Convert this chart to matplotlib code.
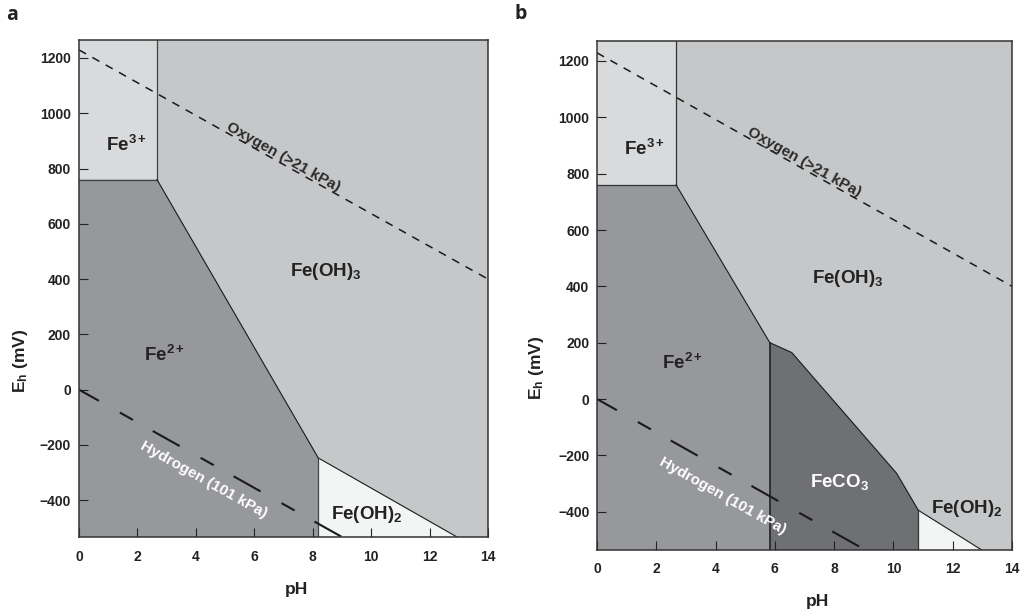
import numpy as np
import matplotlib
matplotlib.use("Agg")
import matplotlib.pyplot as plt

plt.rcParams["font.family"] = ["Liberation Sans", "DejaVu Sans"]
plt.rcParams["font.weight"] = "bold"
plt.rcParams["mathtext.fontset"] = "custom"
plt.rcParams["mathtext.rm"] = "Liberation Sans:bold"
plt.rcParams["mathtext.it"] = "Liberation Sans:bold"
plt.rcParams["mathtext.bf"] = "Liberation Sans:bold"
plt.rcParams["mathtext.default"] = "rm"
plt.rcParams["lines.scale_dashes"] = False

# ---- data -------------------------------------------------------------
ph_ticks = [0, 2, 4, 6, 8, 10, 12, 14]
eh_ticks = [-400, -200, 0, 200, 400, 600, 800, 1000, 1200]
ylim_a = (-533, 1265)
ylim_b = (-536, 1271)

# water stability lines (mV)
oxygen_ph = [0, 14]
oxygen_eh = [1229, 400]
hydrogen_ph = [0, 14]
hydrogen_eh = [0, -829]

# Fe3+ / Fe2+ boundary
fe3_ph = 2.67
fe3_eh = 760

# panel a: Fe2+ / Fe(OH)3 boundary and Fe(OH)2 field
a_fe2_ph = [2.67, 8.19]
a_fe2_eh = [760, -247]
a_oh2_ph = [8.19, 12.94]
a_oh2_eh = [-247, -533]

# panel b: Fe2+ / Fe(OH)3, FeCO3 field and Fe(OH)2 field
b_fe2_ph = [2.67, 5.83]
b_fe2_eh = [760, 200]
b_co3_ph = [5.83, 6.57, 10.11, 10.84]
b_co3_eh = [200, 165, -264, -395]
b_oh2_ph = [10.84, 12.98]
b_oh2_eh = [-395, -536]

# field labels: (text, pH, Eh, colour)
labels_a = [
    ("Fe$^{3+}$", 1.61, 864, "#222222"),
    ("Fe(OH)$_3$", 8.45, 410, "#222222"),
    ("Fe$^{2+}$", 2.92, 103, "#222222"),
    ("Fe(OH)$_2$", 9.85, -468, "#222222"),
]
labels_b = [
    ("Fe$^{3+}$", 1.59, 866, "#222222"),
    ("Fe(OH)$_3$", 8.45, 411, "#222222"),
    ("Fe$^{2+}$", 2.88, 107, "#222222"),
    ("FeCO$_3$", 8.17, -314, "white"),
    ("Fe(OH)$_2$", 12.47, -406, "#222222"),
]
oxygen_label = ("Oxygen (>21 kPa)", 7.0, 842)
hydrogen_label_a = ("Hydrogen (101 kPa)", 4.27, -327)
hydrogen_label_b = ("Hydrogen (101 kPa)", 4.24, -344)

# ---- styles -----------------------------------------------------------
C_FE3 = "#d9dadc"
C_OH3 = "#c6c7c9"
C_FE2 = "#97989b"
C_CO3 = "#6f7074"
C_OH2 = "#f3f4f4"
EDGE = "#1a1a1a"

fig = plt.figure(figsize=(10.27, 6.14), dpi=100)
ax_a = fig.add_axes([79 / 1027, 1 - 537 / 614, 409 / 1027, 497 / 614])
ax_b = fig.add_axes([597 / 1027, 1 - 550 / 614, 415 / 1027, 509 / 614])


def setup(ax, ylim, xpad, ypad):
    ax.set_xlim(0, 14)
    ax.set_ylim(*ylim)
    ax.set_facecolor(C_OH3)
    ax.set_xticks(ph_ticks)
    ax.set_yticks(eh_ticks)
    ax.tick_params(direction="in", length=6.5, width=0.8, colors="#222222",
                   labelsize=10)
    ax.tick_params(axis="x", pad=xpad)
    ax.tick_params(axis="y", pad=ypad)
    for s in ax.spines.values():
        s.set_linewidth(1.1)
        s.set_color("#333333")
        s.set_zorder(10)


def water_lines(ax):
    ax.plot(oxygen_ph, oxygen_eh, color="#1a1a1a", lw=1.1,
            linestyle=(0, (5.8, 5.2)), zorder=5)
    ax.plot(hydrogen_ph, hydrogen_eh, color="#1a1a1a", lw=1.5,
            linestyle=(5.8, (22.2, 17.3, 10.8, 16.4)), zorder=5)


def angle_of(ax, ph, eh):
    p = ax.transData.transform(np.column_stack([ph, eh]))
    return np.degrees(np.arctan2(p[1, 1] - p[0, 1], p[1, 0] - p[0, 0]))


def field_labels(ax, labels, hyd):
    for txt, x, y, c in labels:
        ax.text(x, y, txt, ha="center", va="baseline", fontsize=13.5,
                fontweight="bold", color=c, zorder=7)
    ang = angle_of(ax, oxygen_ph, oxygen_eh)
    t, x, y = oxygen_label
    ax.text(x, y, t, ha="center", va="center", rotation=ang,
            rotation_mode="anchor", fontsize=11, fontweight="bold",
            color="#2a2a2a", zorder=7)
    t, x, y = hyd
    ax.text(x, y, t, ha="center", va="center", rotation=ang,
            rotation_mode="anchor", fontsize=11, fontweight="bold",
            color="white", zorder=7)


def axis_titles(ax, xl, yl):
    ax.text(xl[0], xl[1], "pH", transform=ax.transAxes, ha="center",
            va="center", fontsize=12.5, fontweight="bold", color="#222222")
    ax.text(yl[0], yl[1], "E$_\\mathregular{h}$ (mV)", transform=ax.transAxes,
            ha="center", va="center", rotation=90, fontsize=12.5,
            fontweight="bold", color="#222222")


# ---- panel a ----------------------------------------------------------
setup(ax_a, ylim_a, 9.4, 5.8)
bot, top = ylim_a
ax_a.fill([0, fe3_ph, fe3_ph, 0], [fe3_eh, fe3_eh, top, top], color=C_FE3,
          lw=0, zorder=1)
ax_a.fill([0] + a_fe2_ph + [a_fe2_ph[-1], 0],
          [fe3_eh] + a_fe2_eh + [bot, bot], color=C_FE2, lw=0, zorder=1)
ax_a.fill(a_oh2_ph + [a_oh2_ph[0]], a_oh2_eh + [bot], color=C_OH2, lw=0,
          zorder=1)
ax_a.plot([fe3_ph, fe3_ph], [top, fe3_eh], color="#444444", lw=0.9, zorder=3)
ax_a.plot([0, fe3_ph], [fe3_eh, fe3_eh], color="#444444", lw=0.9, zorder=3)
ax_a.plot(a_fe2_ph, a_fe2_eh, color=EDGE, lw=0.8, zorder=3)
ax_a.plot(a_oh2_ph, a_oh2_eh, color=EDGE, lw=0.8, zorder=3)
ax_a.plot([a_oh2_ph[0], a_oh2_ph[0]], [a_oh2_eh[0], bot], color="#444444",
          lw=0.9, zorder=3)
water_lines(ax_a)
field_labels(ax_a, labels_a, hydrogen_label_a)
axis_titles(ax_a, (0.532, -0.105), (-0.144, 0.354))

# ---- panel b ----------------------------------------------------------
setup(ax_b, ylim_b, 8.5, 5.5)
bot, top = ylim_b
ax_b.fill([0, fe3_ph, fe3_ph, 0], [fe3_eh, fe3_eh, top, top], color=C_FE3,
          lw=0, zorder=1)
ax_b.fill([0] + b_fe2_ph + [b_fe2_ph[-1], 0],
          [fe3_eh] + b_fe2_eh + [bot, bot], color=C_FE2, lw=0, zorder=1)
ax_b.fill(b_co3_ph + [b_co3_ph[-1], b_co3_ph[0]], b_co3_eh + [bot, bot],
          color=C_CO3, lw=0, zorder=1)
ax_b.fill(b_oh2_ph + [b_oh2_ph[0]], b_oh2_eh + [bot], color=C_OH2, lw=0,
          zorder=1)
ax_b.plot([fe3_ph, fe3_ph], [top, fe3_eh], color="#333333", lw=0.9, zorder=3)
ax_b.plot([0, fe3_ph], [fe3_eh, fe3_eh], color="#333333", lw=0.9, zorder=3)
ax_b.plot(b_fe2_ph, b_fe2_eh, color=EDGE, lw=0.8, zorder=3)
ax_b.plot(b_co3_ph, b_co3_eh, color=EDGE, lw=0.8, zorder=3)
ax_b.plot([b_co3_ph[0], b_co3_ph[0]], [b_co3_eh[0], bot], color="#222222",
          lw=1.2, zorder=3)
ax_b.plot(b_oh2_ph, b_oh2_eh, color=EDGE, lw=0.8, zorder=3)
ax_b.plot([b_oh2_ph[0], b_oh2_ph[0]], [b_oh2_eh[0], bot], color="#333333",
          lw=0.9, zorder=3)
water_lines(ax_b)
field_labels(ax_b, labels_b, hydrogen_label_b)
axis_titles(ax_b, (0.531, -0.1016), (-0.145, 0.358))

# panel letters
for letter, x, y in [("a", 12, 15), ("b", 521, 14)]:
    fig.text(x / 1027, 1 - y / 614, letter, ha="center", va="center",
             fontsize=14, fontweight="bold", family=["Open Sans", "DejaVu Sans"],
             color="#222222")

fig.savefig("out.png", dpi=100)
